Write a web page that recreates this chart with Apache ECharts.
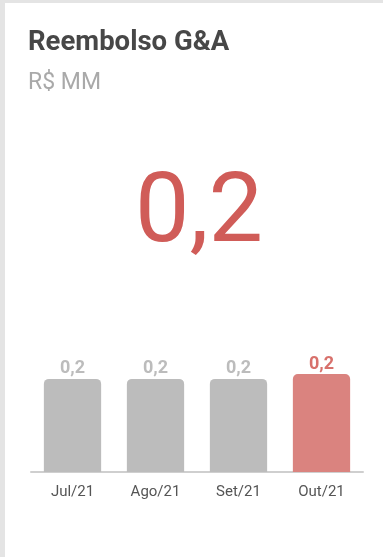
<!DOCTYPE html>
<html>
<head>
<meta charset="utf-8">
<script src="https://cdn.jsdelivr.net/npm/echarts@6/dist/echarts.min.js"></script>
<style>
  html, body { margin: 0; padding: 0; background: #e4e4e4; width: 383px; height: 557px; overflow: hidden; }
  #card { position: absolute; left: 5px; top: 3px; width: 378px; height: 554px; background: #ffffff; }
</style>
</head>
<body>
<div id="card"></div>
<script>
// Monthly G&A reimbursement, R$ millions
const months = ['Jul/21', 'Ago/21', 'Set/21', 'Out/21'];
const values = [0.19, 0.19, 0.19, 0.20];

const GREY = '#bcbcbc';
const RED = '#da837f';
const fmt = v => v.toFixed(1).replace('.', ',');
const last = values.length - 1;

const chart = echarts.init(document.getElementById('card'), null, { renderer: 'canvas' });

chart.setOption({
  animation: false,
  title: {
    text: 'Reembolso G&A',
    subtext: 'R$ MM',
    left: 23,
    top: 26,
    padding: 0,
    itemGap: 15,
    textStyle: { fontFamily: 'Roboto', fontSize: 27.5, fontWeight: 'bold', color: '#474747' },
    subtextStyle: { fontFamily: 'Roboto', fontSize: 23, color: '#a9a9a9' }
  },
  graphic: [{
    type: 'text',
    x: 194,
    y: 165,
    style: {
      text: fmt(values[last]),
      align: 'center',
      fontFamily: 'Roboto',
      fontSize: 97,
      fontWeight: 'normal',
      fill: '#d05c58'
    }
  }],
  grid: { left: 26, right: 20, top: 273, bottom: 85 },
  xAxis: {
    type: 'category',
    data: months,
    axisLine: { lineStyle: { color: '#cfcfcf', width: 2 } },
    axisTick: { show: false },
    axisLabel: { fontFamily: 'Roboto', fontSize: 15, color: '#555555', margin: 13 }
  },
  yAxis: {
    type: 'value',
    min: 0,
    max: 0.4,
    show: false,
    splitLine: { show: false }
  },
  series: [{
    type: 'bar',
    barWidth: '69%',
    data: values.map((v, i) => ({
      value: v,
      itemStyle: { color: i === last ? RED : GREY, borderRadius: [5, 5, 0, 0] },
      label: { color: i === last ? '#d8716c' : GREY }
    })),
    label: {
      show: true,
      position: 'top',
      distance: 1,
      fontFamily: 'Roboto',
      fontSize: 18,
      fontWeight: 'bold',
      formatter: p => fmt(p.value)
    }
  }]
});
</script>
</body>
</html>
